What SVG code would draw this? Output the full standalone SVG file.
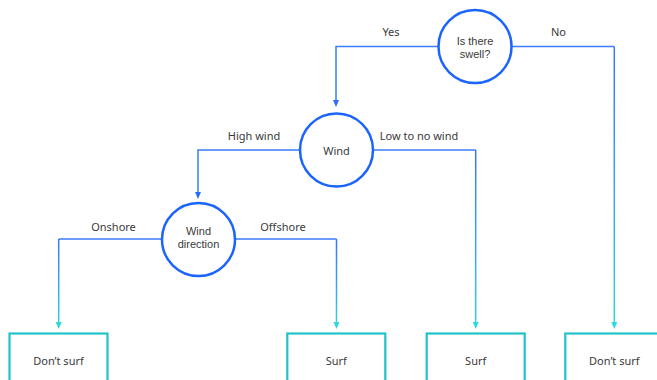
<svg xmlns="http://www.w3.org/2000/svg" width="657" height="380" viewBox="0 0 657 380">
<style>
.t{font-family:"Noto Sans","Open Sans","Liberation Sans",sans-serif;font-size:11px;fill:#3a3a3a;text-anchor:middle;dominant-baseline:central}
.t2{font-family:"Liberation Sans",Arial,sans-serif;font-size:11px;fill:#3a3a3a;text-anchor:middle;dominant-baseline:central}
.c{fill:#fff;stroke:#1c64ff;stroke-width:2.5}
.b{fill:#fff;stroke:#22c3c8;stroke-width:2.2}
.h{fill:none;stroke:#3a7bff;stroke-width:1.5}
.v{fill:none;stroke-width:1.5}
.ab{fill:#2a6cff}
.ac{fill:#2ed8e0}
</style>
<defs>
<linearGradient id="g1" gradientUnits="userSpaceOnUse" x1="0" y1="46" x2="0" y2="330"><stop offset="0" stop-color="#3a73ff"/><stop offset="1" stop-color="#2ed8e0"/></linearGradient>
<linearGradient id="g2" gradientUnits="userSpaceOnUse" x1="0" y1="150" x2="0" y2="330"><stop offset="0" stop-color="#3a73ff"/><stop offset="1" stop-color="#2ed8e0"/></linearGradient>
<linearGradient id="g3" gradientUnits="userSpaceOnUse" x1="0" y1="239" x2="0" y2="330"><stop offset="0" stop-color="#3a73ff"/><stop offset="1" stop-color="#2ed8e0"/></linearGradient>
</defs>
<g id="connectors">
<path class="h" d="M439,46.5H336V101"/>
<path class="h" d="M300,150H198V193"/>
<path class="h" d="M512,46.5H614.3"/>
<path class="v" d="M614.3,46.5V323" stroke="url(#g1)"/>
<path class="h" d="M373,150H475.7"/>
<path class="v" d="M475.7,150V323" stroke="url(#g2)"/>
<path class="h" d="M162,239H58.7"/>
<path class="v" d="M58.7,239V323" stroke="url(#g3)"/>
<path class="h" d="M235,239H336.5"/>
<path class="v" d="M336.5,239V323" stroke="url(#g3)"/>
<path class="ab" d="M333,100L339,100L336,107Z"/>
<path class="ab" d="M195,192L201,192L198,199Z"/>
<path class="ac" d="M55.7,322L61.7,322L58.7,329Z"/>
<path class="ac" d="M333.5,322L339.5,322L336.5,329Z"/>
<path class="ac" d="M472.7,322L478.7,322L475.7,329Z"/>
<path class="ac" d="M611.3,322L617.3,322L614.3,329Z"/>
<text class="t" x="391" y="31.5">Yes</text>
<text class="t" x="558.5" y="31.5">No</text>
<text class="t" x="254" y="135.5">High wind</text>
<text class="t" x="419" y="135.5">Low to no wind</text>
<text class="t" x="113.5" y="226.5">Onshore</text>
<text class="t" x="283" y="226.5">Offshore</text>
</g>
<g id="swell"><circle class="c" cx="475" cy="46.5" r="36.5"/><text class="t2" x="475" y="41">Is there</text><text class="t2" x="475" y="53.8">swell?</text></g>
<g id="wind"><circle class="c" cx="336.5" cy="150" r="36.5"/><text class="t" x="336.5" y="150">Wind</text></g>
<g id="winddir"><circle class="c" cx="198.5" cy="239.5" r="36.5"/><text class="t2" x="198.5" y="231">Wind</text><text class="t2" x="198.5" y="243.8">direction</text></g>
<g id="dontsurf1"><rect class="b" x="9.5" y="333.5" width="98" height="70"/><text class="t" x="58.5" y="360.5">Don’t surf</text></g>
<g id="surf1"><rect class="b" x="287.3" y="333.5" width="98" height="70"/><text class="t" x="336.3" y="360.5">Surf</text></g>
<g id="surf2"><rect class="b" x="426.7" y="333.5" width="98" height="70"/><text class="t" x="475.7" y="360.5">Surf</text></g>
<g id="dontsurf2"><rect class="b" x="565.3" y="333.5" width="98" height="70"/><text class="t" x="614.3" y="360.5">Don’t surf</text></g>
</svg>
